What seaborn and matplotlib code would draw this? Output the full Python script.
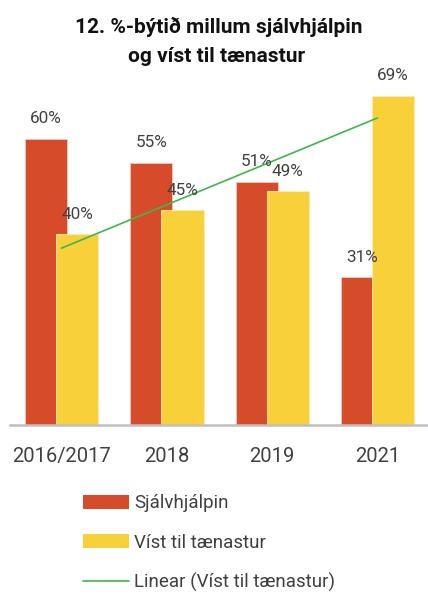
import numpy as np
import pandas as pd
import matplotlib
matplotlib.use("Agg")
import matplotlib.pyplot as plt
import seaborn as sns
from matplotlib.lines import Line2D
from matplotlib.patches import Patch

# data
years = ['2016/2017', '2018', '2019', '2021']
sjalvhjalpin = [60, 55, 51, 31]
vist_til_taenastur = [40, 45, 49, 69]

red = '#D64B29'
yellow = '#F8D13A'
green = '#3DB84A'
txt = '#404040'

sns.set_theme(style='white')
plt.rcParams['font.family'] = ['Roboto', 'DejaVu Sans']

df = pd.DataFrame({'year': years, 'sjalv': sjalvhjalpin, 'vist': vist_til_taenastur})

fig = plt.figure(figsize=(4.28, 5.94), dpi=100)
ax = fig.add_axes([10 / 428, 169 / 594, 418 / 428, 0.602])

w = 0.4
shift = 0.148
sns.barplot(data=df, x='year', y='sjalv', color=red, width=w, saturation=1,
            edgecolor='#F3C7BC', linewidth=0.6, ax=ax)
sns.barplot(data=df, x='year', y='vist', color=yellow, width=w, saturation=1,
            edgecolor='#FBEBB5', linewidth=0.6, ax=ax)

# overlapping dodge: red bars to the left, yellow to the right
for b in ax.containers[0]:
    b.set_x(b.get_x() - shift)
for b in ax.containers[1]:
    b.set_x(b.get_x() + shift)

# value labels
for cont, vals in zip(ax.containers, [sjalvhjalpin, vist_til_taenastur]):
    for b, v in zip(cont, vals):
        ax.annotate(f'{v}%', (b.get_x() + b.get_width() / 2, v),
                    xytext=(0, 14.5), textcoords='offset points',
                    ha='center', va='center', fontsize=12.3, color=txt)

# linear trend of the yellow series
xs = np.arange(len(years))
k, m = np.polyfit(xs, vist_til_taenastur, 1)
ax.plot(xs, k * xs + m, color=green, lw=1.2)

ax.set_xlim(-0.49, 3.48)
ax.set_ylim(0, 75)
ax.set_xlabel('')
ax.set_ylabel('')
ax.set_yticks([])
for s in ['top', 'right', 'left']:
    ax.spines[s].set_visible(False)
ax.spines['bottom'].set_color('#BFBFBF')
ax.spines['bottom'].set_linewidth(1.8)
ax.tick_params(axis='x', length=0, pad=16, labelsize=14.5, labelcolor=txt)

fig.text(0.512, 1 - 27 / 594, '12. %-býtið millum sjálvhjálpin', ha='center', va='center',
         fontsize=15, fontweight='bold', color='#111111')
fig.text(0.505, 1 - 57 / 594, 'og víst til tænastur', ha='center', va='center',
         fontsize=15, fontweight='bold', color='#111111')

handles = [Patch(facecolor=red, edgecolor='none'),
           Patch(facecolor=yellow, edgecolor='none'),
           Line2D([0], [0], color=green, lw=1.2)]
labels = ['Sjálvhjálpin', 'Víst til tænastur', 'Linear (Víst til tænastur)']
fig.legend(handles, labels, loc='upper left', bbox_to_anchor=(75 / 428, 1 - 487 / 594),
           frameon=False, fontsize=13.5, handlelength=2.5, handletextpad=0.25,
           labelspacing=1.12, labelcolor=txt, borderaxespad=0)

fig.savefig('out.png', dpi=100)
